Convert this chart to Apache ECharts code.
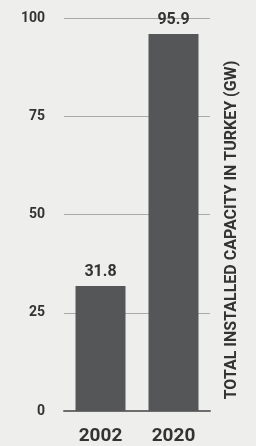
<!DOCTYPE html>
<html>
<head>
<meta charset="utf-8">
<script src="https://cdn.jsdelivr.net/npm/echarts@6/dist/echarts.min.js"></script>
<style>
    html, body { margin: 0; padding: 0; background: #eeeeed; }
    #chart { width: 256px; height: 446px; }
</style>
</head>
<body>
<div id="chart"></div>
<script>
    var years = ['2002', '2020'];
    var capacity = [31.8, 95.9];
    var yTicks = [0, 25, 50, 75, 100];
    var axisTitle = 'TOTAL INSTALLED CAPACITY IN TURKEY (GW)';

    var chart = echarts.init(document.getElementById('chart'));
    var font = 'Roboto, "DejaVu Sans Condensed", sans-serif';

    var option = {
        backgroundColor: '#eeeeed',
        animation: false,
        grid: { left: 64, right: 46, top: 18, bottom: 34 },
        xAxis: {
            type: 'category',
            data: years,
            axisTick: { show: false },
            axisLine: { lineStyle: { color: '#6d6d6d', width: 2 } },
            axisLabel: {
                color: '#333', fontFamily: font, fontWeight: 'bold', fontSize: 19, margin: 16
            }
        },
        yAxis: {
            type: 'value',
            min: yTicks[0], max: yTicks[yTicks.length - 1], interval: 25,
            axisLine: { show: false },
            axisTick: { show: false },
            splitLine: { lineStyle: { color: '#aaa', width: 1 } },
            axisLabel: {
                color: '#333', fontFamily: font, fontWeight: 'bold', fontSize: 14, margin: 19
            }
        },
        graphic: [{
            type: 'text',
            x: 232, y: 230,
            rotation: Math.PI / 2,
            style: {
                text: axisTitle,
                fill: '#333',
                font: 'bold 16px ' + font,
                textAlign: 'center',
                textVerticalAlign: 'middle'
            }
        }],
        series: [{
            type: 'bar',
            data: capacity,
            barWidth: 50,
            itemStyle: { color: '#555657' },
            label: {
                show: true, position: 'top', distance: 6,
                color: '#333', fontFamily: font, fontWeight: 'bold', fontSize: 16
            }
        }]
    };
    chart.setOption(option);
</script>
</body>
</html>
